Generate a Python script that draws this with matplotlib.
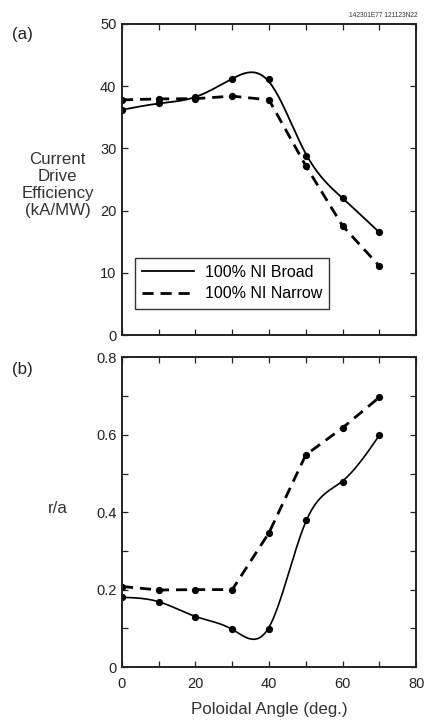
import numpy as np
import matplotlib
matplotlib.use("Agg")
import matplotlib.pyplot as plt

plt.rcParams["font.family"] = ["Liberation Sans", "DejaVu Sans"]

angle = [0, 10, 20, 30, 40, 50, 60, 70]

eff_broad = [36.2, 37.25, 38.2, 41.1, 41.1, 28.8, 22.1, 16.5]
eff_narrow = [37.8, 37.95, 38.0, 38.4, 37.8, 27.2, 17.55, 11.1]

ra_broad = [0.18, 0.169, 0.13, 0.099, 0.099, 0.379, 0.479, 0.599]
ra_narrow = [0.208, 0.199, 0.2, 0.2, 0.347, 0.548, 0.618, 0.697]

label_broad = "100% NI Broad"
label_narrow = "100% NI Narrow"


def smooth_curve(x, y, lam=30.0, step=0.25):
    # penalised fit on a fine grid (like a smoothing spline), only for drawing the curve
    x = np.asarray(x, dtype=float)
    y = np.asarray(y, dtype=float)
    xs = np.arange(x[0], x[-1] + step / 2, step)
    n = len(xs)
    W = np.zeros((n, n))
    rhs = np.zeros(n)
    for xi, yi in zip(x, y):
        j = int(round((xi - x[0]) / step))
        W[j, j] += 1.0
        rhs[j] += yi
    D = np.zeros((n - 2, n))
    for i in range(n - 2):
        D[i, i:i + 3] = [1.0, -2.0, 1.0]
    D /= step ** 2
    A = W + lam * step * D.T @ D
    return xs, np.linalg.solve(A, rhs)


def style_axes(ax):
    for spine in ax.spines.values():
        spine.set_linewidth(1.4)
        spine.set_color("#222222")
    ax.tick_params(which="both", direction="in", top=True, right=True,
                   length=4, width=0.9, labelsize=10.5, colors="#222222",
                   pad=4)
    ax.set_xlim(0, 80)


fig = plt.figure(figsize=(4.25, 7.2), dpi=100)
ax1 = fig.add_axes([0.287, 0.5347, 0.692, 0.432])
ax2 = fig.add_axes([0.287, 0.0736, 0.692, 0.43])

# (a) current drive efficiency
xs, ys = smooth_curve(angle, eff_broad, lam=8.0)
ax1.plot(xs, ys, color="black", lw=1.3, label=label_broad)
ax1.plot(angle, eff_broad, "o", color="black", ms=4.2)
ax1.plot(angle, eff_narrow, color="black", lw=2.0, ls=(0, (4, 2.5)), label=label_narrow)
ax1.plot(angle, eff_narrow, "o", color="black", ms=4.2)
style_axes(ax1)
ax1.set_ylim(0, 50)
ax1.set_xticks(np.arange(0, 81, 10))
ax1.set_yticks(np.arange(0, 51, 10))
ax1.tick_params(labelbottom=False)
leg = ax1.legend(loc="lower left", bbox_to_anchor=(0.045, 0.085), fontsize=11.5,
                 frameon=True, fancybox=False, handlelength=3.2, borderpad=0.45,
                 labelspacing=0.4, handletextpad=0.7, borderaxespad=0)
leg.get_frame().set_edgecolor("black")
leg.get_frame().set_linewidth(1.0)

fig.text(0.136, 0.743, "Current\nDrive\nEfficiency\n(kA/MW)", ha="center", va="center",
         fontsize=12.2, color="#333333", linespacing=1.15)
fig.text(0.028, 0.952, "(a)", fontsize=12.2, ha="left", va="center", color="#222222")
fig.text(0.982, 0.979, "142301E77 121123N22", fontsize=4.8, ha="right", va="center",
         color="#333333")

# (b) r/a
xs, ys = smooth_curve(angle, ra_broad, lam=2.5)
ax2.plot(xs, ys, color="black", lw=1.2)
ax2.plot(angle, ra_broad, "o", color="black", ms=4.2)
ax2.plot(angle, ra_narrow, color="black", lw=2.0, ls=(0, (4, 2.5)))
ax2.plot(angle, ra_narrow, "o", color="black", ms=4.2)
style_axes(ax2)
ax2.set_ylim(0, 0.8)
ax2.set_xticks(np.arange(0, 81, 20))
ax2.set_xticks(np.arange(0, 81, 10), minor=True)
ax2.set_yticks([0, 0.2, 0.4, 0.6, 0.8])
ax2.set_yticklabels(["0", "0.2", "0.4", "0.6", "0.8"])
ax2.set_yticks(np.arange(0, 0.81, 0.1), minor=True)
ax2.tick_params(axis="x", pad=7)
ax2.set_xlabel("Poloidal Angle (deg.)", fontsize=12.2, color="#333333", labelpad=8)

fig.text(0.137, 0.294, "r/a", ha="center", va="center", fontsize=12.2, color="#333333")
fig.text(0.028, 0.487, "(b)", fontsize=12.2, ha="left", va="center", color="#222222")

fig.savefig("out.png", dpi=100)
